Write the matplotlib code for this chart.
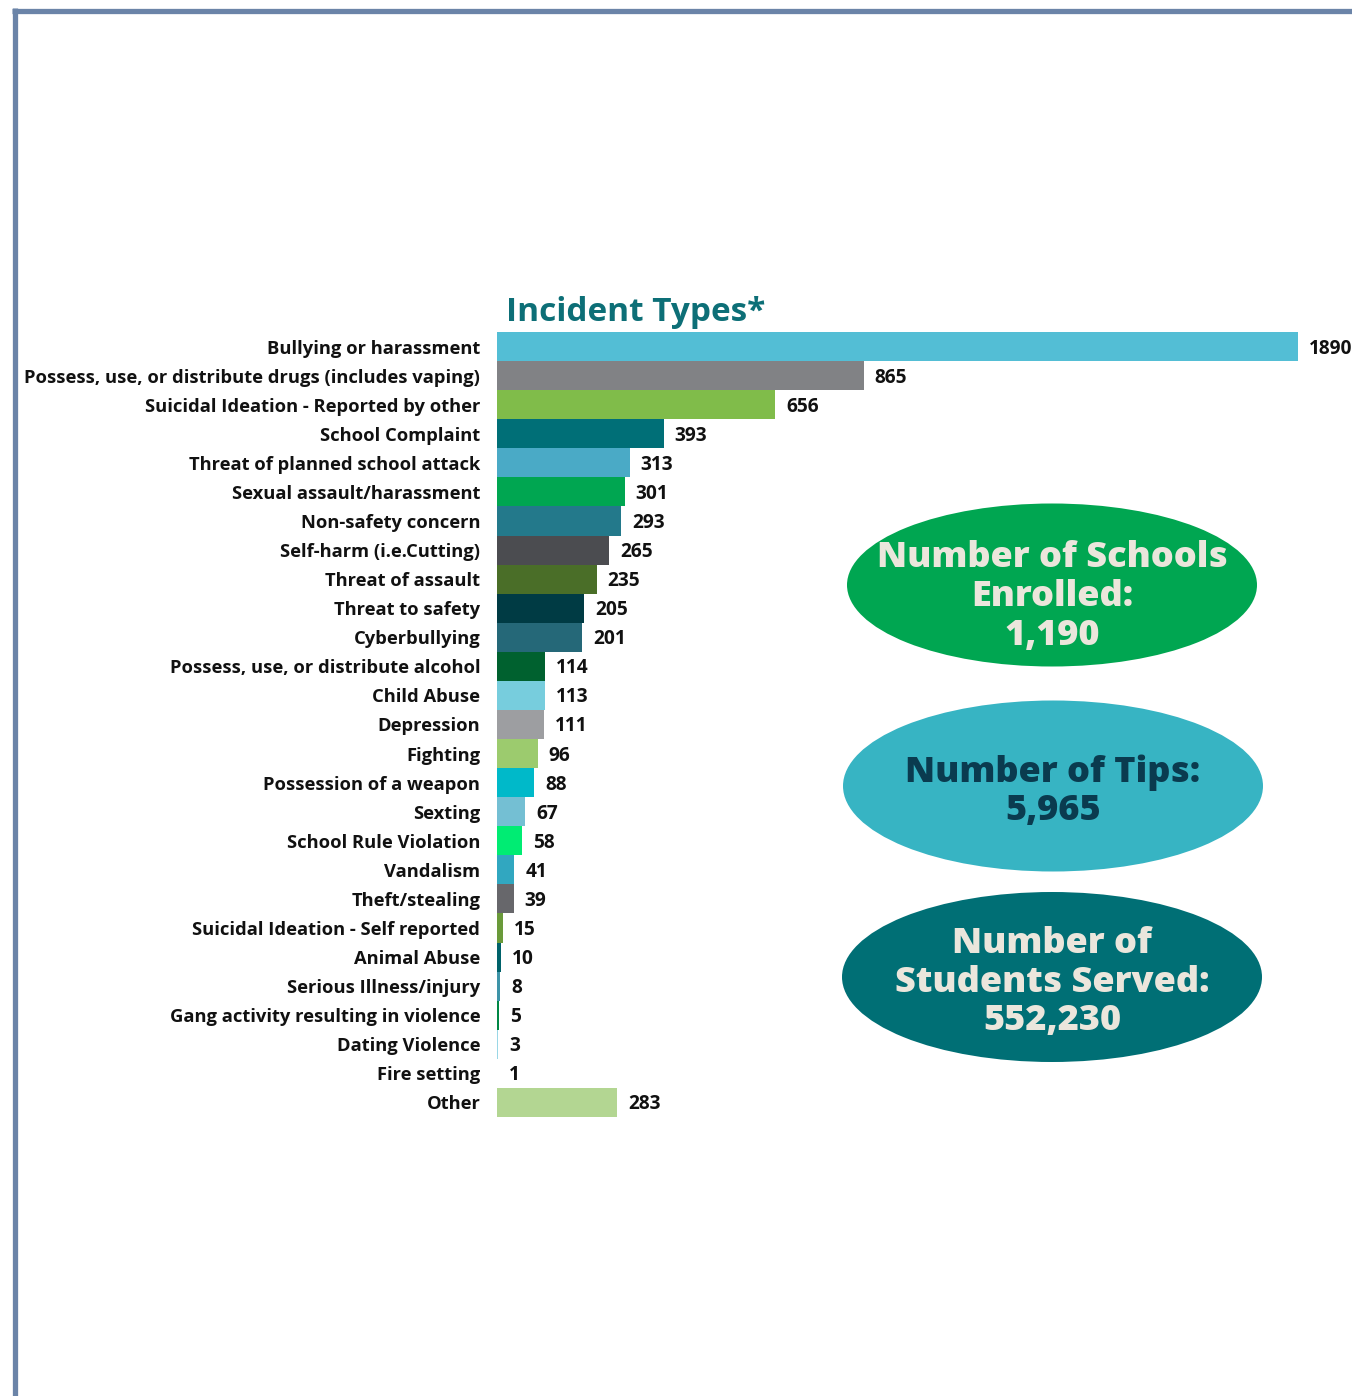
import matplotlib
matplotlib.use("Agg")
import matplotlib.pyplot as plt
from matplotlib.patches import Ellipse
from matplotlib.lines import Line2D

categories = [
    "Bullying or harassment",
    "Possess, use, or distribute drugs (includes vaping)",
    "Suicidal Ideation - Reported by other",
    "School Complaint",
    "Threat of planned school attack",
    "Sexual assault/harassment",
    "Non-safety concern",
    "Self-harm (i.e.Cutting)",
    "Threat of assault",
    "Threat to safety",
    "Cyberbullying",
    "Possess, use, or distribute alcohol",
    "Child Abuse",
    "Depression",
    "Fighting",
    "Possession of a weapon",
    "Sexting",
    "School Rule Violation",
    "Vandalism",
    "Theft/stealing",
    "Suicidal Ideation - Self reported",
    "Animal Abuse",
    "Serious Illness/injury",
    "Gang activity resulting in violence",
    "Dating Violence",
    "Fire setting",
    "Other",
]
values = [1890, 865, 656, 393, 313, 301, 293, 265, 235, 205, 201, 114, 113, 111,
          96, 88, 67, 58, 41, 39, 15, 10, 8, 5, 3, 1, 283]
colors = ["#53bed5", "#818285", "#80bc4a", "#006f77", "#4aaac6", "#00a651",
          "#23798b", "#4b4c50", "#4a6e28", "#003b44", "#256878", "#00612f",
          "#77cddd", "#9d9ea1", "#9ccb6e", "#00b9c9", "#74bfd3", "#00ec73",
          "#31a7c0", "#67676b", "#6a9a3a", "#00626a", "#3e94a8", "#008745",
          "#9ad7e6", "#b3b3b5", "#b3d692"]

title = "Incident Types*"
stat_texts = ["Number of Schools\nEnrolled:\n1,190",
              "Number of Tips:\n5,965",
              "Number of\nStudents Served:\n552,230"]

W, H = 1352, 1396
fig = plt.figure(figsize=(W / 100, H / 100), dpi=100)
fig.patch.set_facecolor("white")

# bar axes in pixel placement
ax_left, ax_right = 497, 1352
ax_top, ax_bottom = 332, 1117
ax = fig.add_axes([ax_left / W, 1 - ax_bottom / H,
                   (ax_right - ax_left) / W, (ax_bottom - ax_top) / H])
px_per_unit = (1298 - 497) / 1890.0
xmax = (ax_right - ax_left) / px_per_unit
n = len(categories)
ypos = list(range(n))
ax.barh(ypos, values, height=1.0, color=colors, edgecolor="none")
ax.set_xlim(0, xmax)
ax.set_ylim(n - 0.5, -0.5)
for s in ax.spines.values():
    s.set_visible(False)
ax.set_xticks([])
ax.set_yticks(ypos)
ax.set_yticklabels(categories, fontfamily="Open Sans", fontweight="bold",
                   fontsize=13.2, color="#111111")
ax.tick_params(axis="y", length=0, pad=12)
ax.patch.set_alpha(0)
for y, v in zip(ypos, values):
    ax.annotate(str(v), xy=(v, y), xytext=(11, -2), textcoords="offset pixels",
                ha="left", va="center", fontfamily="Open Sans",
                fontweight="bold", fontsize=13.8, color="#111111",
                annotation_clip=False)

# overlay axes in pixel coords
ov = fig.add_axes([0, 0, 1, 1])
ov.set_xlim(0, W)
ov.set_ylim(H, 0)
ov.axis("off")
ov.patch.set_alpha(0)

frame_color = "#6b84a8"
ov.add_line(Line2D([14.5, 14.5], [8, H], color=frame_color, lw=3.8,
                   solid_capstyle="butt"))
ov.add_line(Line2D([12, W], [10.5, 10.5], color=frame_color, lw=3.8,
                   solid_capstyle="butt"))

ov.text(506, 321, title, ha="left", va="baseline", fontfamily="Open Sans",
        fontweight="bold", fontsize=24, color="#0d6f77")

ell_specs = [
    ((1052, 585), 410, 163, "#00a651", "#ebe6dc", [558, 597, 636]),
    ((1053, 786), 420, 171, "#37b4c3", "#0a3b4f", [773, 811]),
    ((1052, 977), 420, 170, "#006f75", "#ebe6dc", [944, 983, 1021]),
]
for (c, w, h, fc, tc, ys), txt in zip(ell_specs, stat_texts):
    ov.add_patch(Ellipse(c, w, h, facecolor=fc, edgecolor="none"))
    for line, yy in zip(txt.split("\n"), ys):
        ov.text(c[0], yy, line, ha="center", va="center",
                fontfamily="Open Sans", fontweight="heavy", fontsize=26,
                color=tc)

fig.savefig("out.png", dpi=100, facecolor="white")
